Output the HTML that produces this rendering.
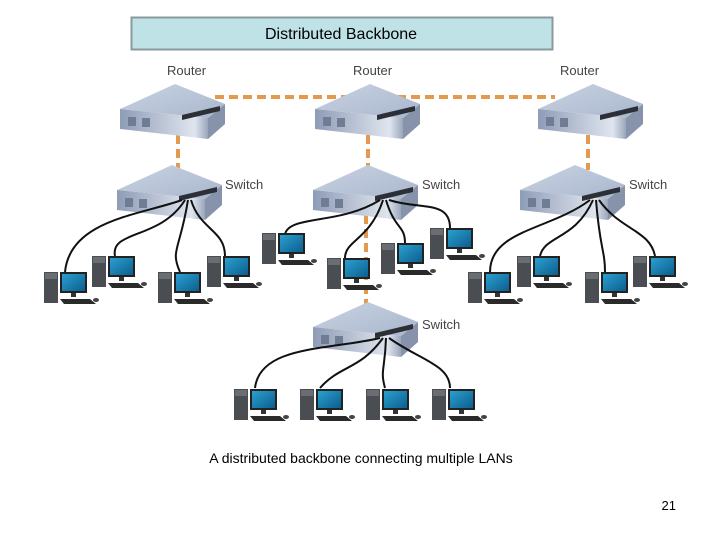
<!DOCTYPE html>
<html><head><meta charset="utf-8"><style>
html,body{margin:0;padding:0;background:#fff;}
svg{display:block;font-family:"Liberation Sans",sans-serif;}
</style></head><body>
<svg width="720" height="540" viewBox="0 0 720 540" xmlns="http://www.w3.org/2000/svg">
<defs>
<linearGradient id="tp" x1="0" y1="0" x2="1" y2="1"><stop offset="0" stop-color="#c9d3e3"/><stop offset="1" stop-color="#a9b6cc"/></linearGradient>
<linearGradient id="fr" x1="0" y1="0" x2="1" y2="0"><stop offset="0" stop-color="#8e9cb6"/><stop offset="0.85" stop-color="#dfe5ee"/><stop offset="1" stop-color="#9aa6bb"/></linearGradient>
<linearGradient id="scr" x1="0" y1="0" x2="1" y2="1"><stop offset="0" stop-color="#2a9fd0"/><stop offset="1" stop-color="#0c5f8e"/></linearGradient>
<g id="dev">
<polygon points="0,25 55,0 105,20 88,34" fill="url(#tp)"/>
<polygon points="0,25 88,34 88,55 0,45" fill="url(#fr)"/>
<polygon points="88,34 105,20 105,40 88,55" fill="#8693aa"/>
<rect x="8" y="33" width="8" height="9" fill="#6f7c93"/>
<rect x="22" y="34" width="8" height="9" fill="#6f7c93"/>
<polygon points="62,31 100,22 100,27 62,36" fill="#2c3036"/>
</g>
<g id="pc">
<rect x="0" y="0" width="14" height="31" fill="#4a4d52"/>
<rect x="1" y="1" width="12" height="6" fill="#6a6d72"/>
<rect x="16" y="0" width="27" height="21" fill="#222"/>
<rect x="18" y="2" width="23" height="17" fill="url(#scr)"/>
<rect x="27" y="21" width="5" height="4" fill="#333"/>
<polygon points="16,27 46,27 52,32 20,32" fill="#2a2a2a"/>
<ellipse cx="52" cy="28" rx="3" ry="2" fill="#444"/>
</g>
</defs>

<rect x="131.5" y="17.5" width="421" height="32" fill="#bfe2e6" stroke="#8a9a9c" stroke-width="2"/>
<text x="341" y="39" font-size="16" text-anchor="middle" fill="#000">Distributed Backbone</text>

<g fill="#444" font-size="13">
<text x="167" y="75">Router</text><text x="353" y="75">Router</text><text x="560" y="75">Router</text>
<text x="225" y="189">Switch</text><text x="422" y="189">Switch</text><text x="629" y="189">Switch</text><text x="422" y="329">Switch</text>
</g>

<g stroke="#e39a4e" stroke-width="4" stroke-dasharray="9,5" fill="none">
<line x1="215" y1="97" x2="555" y2="97"/>
<line x1="178" y1="135" x2="178" y2="170"/>
<line x1="368" y1="135" x2="368" y2="170"/>
<line x1="588" y1="135" x2="588" y2="170"/>
<line x1="366" y1="215" x2="366" y2="308"/>
</g>

<use href="#dev" x="120" y="84"/>
<use href="#dev" x="315" y="84"/>
<use href="#dev" x="538" y="84"/>
<use href="#dev" x="117" y="165"/>
<use href="#dev" x="313" y="165"/>
<use href="#dev" x="520" y="165"/>
<use href="#dev" x="313" y="302"/>

<g stroke="#111" stroke-width="2" fill="none">
<path d="M182,200 C140,215 70,220 65,272"/>
<path d="M185,200 C160,240 110,230 115,256"/>
<path d="M188,200 C180,250 170,250 180,272"/>
<path d="M191,200 C200,230 225,230 225,256"/>
<path d="M380,200 C340,225 290,215 285,234"/>
<path d="M383,200 C370,240 345,240 345,258"/>
<path d="M386,200 C395,230 405,225 405,243"/>
<path d="M389,200 C420,210 450,200 450,228"/>
<path d="M590,200 C550,230 490,230 490,272"/>
<path d="M593,200 C575,240 545,235 540,256"/>
<path d="M596,200 C600,250 605,250 605,272"/>
<path d="M599,200 C620,230 650,230 655,256"/>
<path d="M380,338 C330,350 260,345 255,388"/>
<path d="M383,338 C360,370 340,365 320,388"/>
<path d="M386,338 C385,370 380,370 385,388"/>
<path d="M389,338 C420,360 450,365 450,388"/>
</g>

<use href="#pc" x="44" y="272"/>
<use href="#pc" x="92" y="256"/>
<use href="#pc" x="158" y="272"/>
<use href="#pc" x="207" y="256"/>
<use href="#pc" x="262" y="233"/>
<use href="#pc" x="327" y="258"/>
<use href="#pc" x="381" y="243"/>
<use href="#pc" x="430" y="228"/>
<use href="#pc" x="468" y="272"/>
<use href="#pc" x="517" y="256"/>
<use href="#pc" x="585" y="272"/>
<use href="#pc" x="633" y="256"/>
<use href="#pc" x="234" y="389"/>
<use href="#pc" x="300" y="389"/>
<use href="#pc" x="366" y="389"/>
<use href="#pc" x="432" y="389"/>

<text x="361" y="463" font-size="14" text-anchor="middle" fill="#000">A distributed backbone connecting multiple LANs</text>
<text x="676" y="510" font-size="13" text-anchor="end" fill="#000">21</text>
</svg>
</body></html>
